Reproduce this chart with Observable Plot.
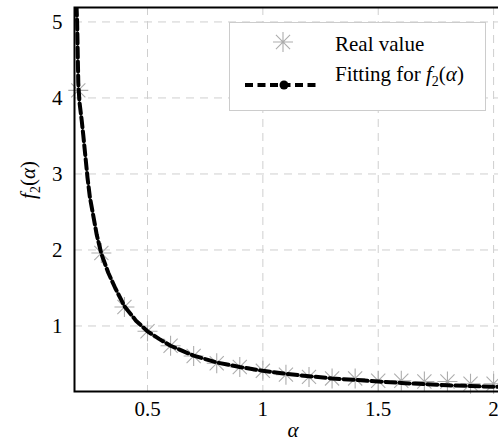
<!DOCTYPE html>
<html><head><meta charset="utf-8">
<script src="https://cdn.jsdelivr.net/npm/d3@7"></script>
<script src="https://cdn.jsdelivr.net/npm/@observablehq/plot@0.6"></script>
<style>
html,body{margin:0;padding:0;overflow:hidden;background:#fff;width:498px;height:443px}
#chart{width:512px;height:443px}
#chart svg{display:block;max-width:none !important;width:512px;height:443px;font-family:'Liberation Serif' !important}
#chart svg text, #chart svg tspan{font-family:'Liberation Serif' !important}
</style>
</head><body><div id="chart"></div>
<script>
// Real values (stars)
const realAlpha = [0.2,0.3,0.4,0.5,0.6,0.7,0.8,0.9,1.0,1.1,1.2,1.3,1.4,1.5,1.6,1.7,1.8,1.9,2.0];
const realValue = [4.1,1.96,1.25,0.93,0.74,0.605,0.51,0.46,0.41,0.36,0.33,0.31,0.31,0.28,0.28,0.27,0.27,0.24,0.24];
// Fitted curve
const fitAlpha = [0.19,0.195,0.2,0.205,0.215,0.222,0.24,0.25,0.28,0.3,0.33,0.36,0.4,0.45,0.5,0.55,0.6,0.7,0.8,0.9,1.0,1.1,1.2,1.3,1.4,1.5,1.6,1.7,1.8,1.9,2.0,2.1];
const fitValue = [5.4,5.0,4.2,3.95,3.7,3.5,2.95,2.7,2.2,1.95,1.7,1.5,1.26,1.07,0.93,0.83,0.74,0.61,0.52,0.46,0.41,0.37,0.34,0.31,0.29,0.27,0.25,0.235,0.22,0.21,0.2,0.195];
const xTicks = [0.5,1,1.5,2];
const yTicks = [1,2,3,4,5];
const xTickLabels = ["0.5","1","1.5","2"];
const yTickLabels = ["1","2","3","4","5"];

const realData = realAlpha.map((a,i)=>({a, v: realValue[i]}));
const fitData = fitAlpha.map((a,i)=>({a, v: fitValue[i]}));

// 8-armed asterisk symbol
const star8 = {
  draw(ctx, size) {
    const r = Math.sqrt(size / Math.PI);
    const d = r * Math.SQRT1_2;
    ctx.moveTo(-r, 0); ctx.lineTo(r, 0);
    ctx.moveTo(0, -r); ctx.lineTo(0, r);
    ctx.moveTo(-d, -d); ctx.lineTo(d, d);
    ctx.moveTo(-d, d); ctx.lineTo(d, -d);
  }
};

const FONT = "Liberation Serif";
const gridStyle = {stroke: "#cfcfcf", strokeOpacity: 1, strokeWidth: 1, strokeDasharray: "8,6"};

const plot = Plot.plot({
  width: 512,
  height: 443,
  marginLeft: 74,
  marginTop: 7,
  marginRight: 0,
  marginBottom: 52,
  x: {domain: [0.1836, 2.082]},
  y: {domain: [0.138, 5.19]},
  style: {fontFamily: FONT, fontSize: "21px", background: "white", color: "black", maxWidth: "none"},
  marks: [
    Plot.gridX(xTicks, gridStyle),
    Plot.gridY(yTicks, gridStyle),
    Plot.axisX(xTicks, {tickSize: 0, tickPadding: 10, tickFormat: (d, i) => xTickLabels[i], label: null, fontSize: 21}),
    Plot.axisY(yTicks, {tickSize: 0, tickPadding: 12, tickFormat: (d, i) => yTickLabels[i], label: null, fontSize: 21}),
    Plot.dot(realData, {x: "a", y: "v", symbol: star8, r: 10, stroke: "#adadad", strokeWidth: 1.1, fill: "none"}),
    Plot.line(fitData, {x: "a", y: "v", stroke: "black", strokeWidth: 4, strokeDasharray: "10,4", clip: true}),
    Plot.frame({stroke: "black", strokeWidth: 2})
  ]
});
document.getElementById("chart").appendChild(plot);

// Axis labels and legend
const svg = d3.select(plot);
svg.append("text")
  .attr("x", 293).attr("y", 437)
  .attr("text-anchor", "middle")
  .attr("font-family", FONT).attr("font-size", 21).attr("font-style", "italic")
  .text("α");

const yl = svg.append("text")
  .attr("transform", "translate(35,180) rotate(-90)")
  .attr("text-anchor", "middle")
  .attr("font-family", FONT).attr("font-size", 21);
yl.append("tspan").attr("font-style", "italic").text("f");
yl.append("tspan").attr("font-size", 14).attr("dy", 5).text("2");
yl.append("tspan").attr("dy", -5).text("(");
yl.append("tspan").attr("font-style", "italic").text("α");
yl.append("tspan").text(")");

const lg = svg.append("g").attr("text-anchor", "start");
lg.append("rect").attr("x", 229.5).attr("y", 22.5).attr("width", 256).attr("height", 88)
  .attr("fill", "white").attr("stroke", "#cccccc").attr("stroke-width", 1);
lg.append("path").attr("transform", "translate(283,42)")
  .attr("d", d3.symbol(star8, Math.PI * 100)())
  .attr("stroke", "#adadad").attr("stroke-width", 1.1).attr("fill", "none");
lg.append("line").attr("x1", 245).attr("x2", 318).attr("y1", 85).attr("y2", 85)
  .attr("stroke", "black").attr("stroke-width", 4).attr("stroke-dasharray", "8,4.5");
lg.append("circle").attr("cx", 284).attr("cy", 85).attr("r", 4.5).attr("fill", "black");
lg.append("text").attr("x", 335).attr("y", 51).attr("text-anchor", "start")
  .attr("font-family", FONT).attr("font-size", 21).text("Real value");
const ft = lg.append("text").attr("x", 335).attr("y", 81).attr("text-anchor", "start")
  .attr("font-family", FONT).attr("font-size", 21);
ft.append("tspan").text("Fitting for ");
ft.append("tspan").attr("font-style", "italic").text("f");
ft.append("tspan").attr("font-size", 14).attr("dy", 5).text("2");
ft.append("tspan").attr("dy", -5).text("(");
ft.append("tspan").attr("font-style", "italic").text("α");
ft.append("tspan").text(")");
</script>
</body></html>
